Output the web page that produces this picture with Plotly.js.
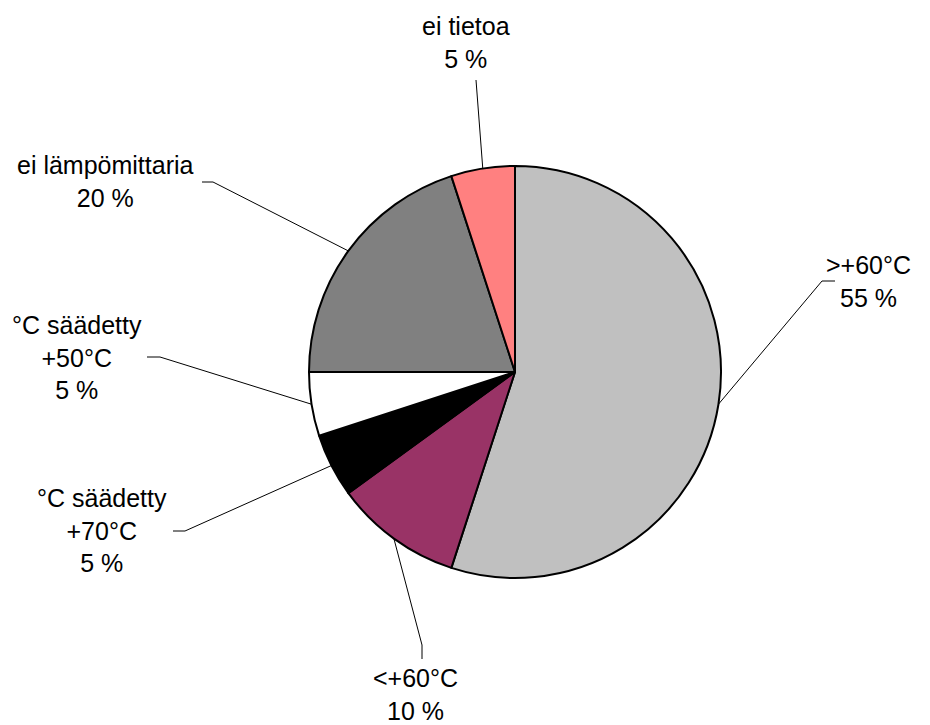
<!DOCTYPE html>
<html>
<head>
<meta charset="utf-8">
<script src="https://cdn.plot.ly/plotly-3.0.1.min.js"></script>
<style>html,body{margin:0;padding:0;background:#fff;}#chart{width:930px;height:725px;}</style>
</head>
<body>
<div id="chart"></div>
<script>
// ---- data ----
const categories = [">+60°C", "<+60°C", "°C säädetty<br>+70°C", "°C säädetty<br>+50°C", "ei lämpömittaria", "ei tietoa"];
const values = [55, 10, 5, 5, 20, 5];
const colors = ["#C0C0C0", "#993366", "#000000", "#FFFFFF", "#808080", "#FF8080"];

// ---- style: label placement (pixels) ----
const labelPos = [[868, 281], [415, 694], [102, 530], [77, 357], [105, 181], [466, 42]];
const elbowPos = [[822, 281], [422, 645], [185, 531], [160, 357], [213, 182], [476, 80]];
const endPos   = [[835, 281], [422, 659], [173, 531], [147, 357], [202, 182], [476, 80]];

const W = 930, H = 725;
const cx = 515, cy = 372, R = 206;

const total = values.reduce((a, b) => a + b, 0);
const lx = [], ly = [];
let cum = 0;
const annotations = [];
values.forEach((v, i) => {
  const mid = (cum + v / 2) / total * 2 * Math.PI;
  cum += v;
  const px = cx + R * Math.sin(mid);
  const py = cy - R * Math.cos(mid);
  lx.push(px, elbowPos[i][0], endPos[i][0], null);
  ly.push(py, elbowPos[i][1], endPos[i][1], null);
  annotations.push({
    x: labelPos[i][0], y: labelPos[i][1], xref: 'x', yref: 'y',
    text: categories[i] + '<br>' + v + ' %',
    showarrow: false, align: 'center', xanchor: 'center', yanchor: 'middle',
    font: {family: 'Liberation Sans, Arial, sans-serif', size: 25, color: '#000'}
  });
});

const pie = {
  type: 'pie', labels: categories, values: values, sort: false, direction: 'clockwise', rotation: 0,
  marker: {colors: colors, line: {color: '#000', width: 2}},
  textinfo: 'none', showlegend: false, hoverinfo: 'label+percent',
  domain: {x: [(cx - R) / W, (cx + R) / W], y: [1 - (cy + R) / H, 1 - (cy - R) / H]}
};
const leaders = {
  type: 'scatter', mode: 'lines', x: lx, y: ly, line: {color: '#000', width: 1},
  hoverinfo: 'skip', showlegend: false
};

const layout = {
  width: W, height: H, margin: {l: 0, r: 0, t: 0, b: 0},
  paper_bgcolor: '#fff', plot_bgcolor: 'rgba(0,0,0,0)',
  xaxis: {range: [0, W], visible: false, fixedrange: true},
  yaxis: {range: [H, 0], visible: false, fixedrange: true},
  annotations: annotations, showlegend: false
};
Plotly.newPlot('chart', [pie, leaders], layout, {displayModeBar: false, staticPlot: true});
</script>
</body>
</html>
